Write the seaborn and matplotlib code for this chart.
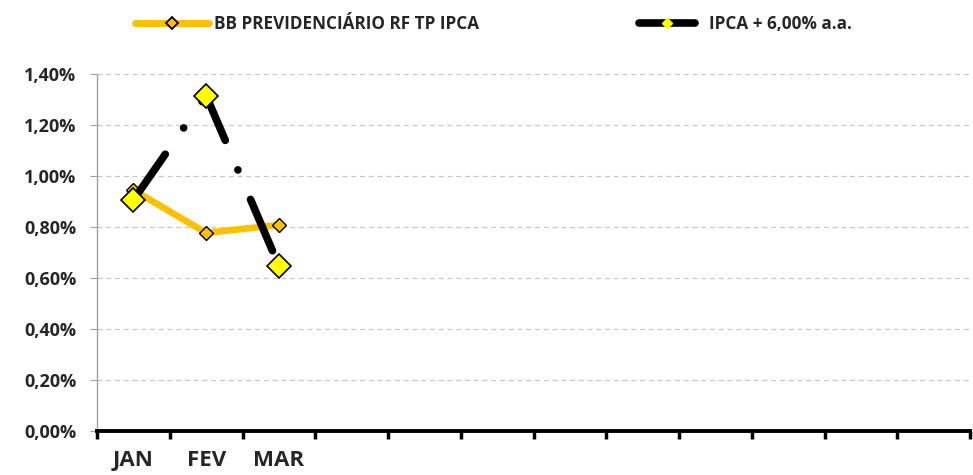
import matplotlib
matplotlib.use("Agg")
import matplotlib.pyplot as plt
import seaborn as sns
import pandas as pd
import numpy as np
from matplotlib.lines import Line2D
from matplotlib.ticker import FuncFormatter, MultipleLocator

# data (monthly %)
month_labels = ["JAN", "FEV", "MAR", "", "", "", "", "", "", "", "", ""]
months = ["JAN", "FEV", "MAR"]
fund_name = "BB PREVIDENCIÁRIO RF TP IPCA"
bench_name = "IPCA + 6,00% a.a."
fund_values = [0.945, 0.777, 0.808]
bench_values = [0.906, 1.315, 0.648]

ORANGE = "#FFC000"
YELLOW = "#FFFF00"

df = pd.DataFrame({
    "pos": np.arange(len(months)),
    "mes": months,
    "fund": fund_values,
    "bench": bench_values,
})

sns.set_style("white")
plt.rcParams["font.family"] = ["Open Sans", "DejaVu Sans"]
plt.rcParams["font.weight"] = "bold"

fig = plt.figure(figsize=(9.73, 4.75), dpi=100)
ax = fig.add_axes([0.0997, 0.0926, 0.8973, 0.7516])

sns.lineplot(data=df, x="pos", y="fund", ax=ax, color=ORANGE, linewidth=4.8,
             marker="D", markersize=7, markerfacecolor=ORANGE,
             markeredgecolor="black", markeredgewidth=1.0, zorder=3)
sns.lineplot(data=df, x="pos", y="bench", ax=ax, color="black", linewidth=5.5,
             marker="D", markersize=12.5, markerfacecolor=YELLOW,
             markeredgecolor="black", markeredgewidth=1.2, zorder=4)
bench_line = ax.lines[-1]
bench_line.set_dashes((7.3, 4.2, 0.01, 4.2))
bench_line.set_dash_capstyle("round")

ax.set_xlim(-0.5, len(month_labels) - 0.5)
ax.set_ylim(0, 1.4)
ax.yaxis.set_major_locator(MultipleLocator(0.2))
ax.yaxis.set_major_formatter(FuncFormatter(lambda v, p: f"{v:.2f}%".replace(".", ",")))
ax.grid(axis="y", color="#c8c8c8", linestyle=(0, (4, 3)), linewidth=0.9)
ax.set_axisbelow(True)

# category boundaries as major ticks, labels at centers as minor ticks
ax.set_xticks(np.arange(-0.5, len(month_labels), 1.0))
ax.set_xticklabels([])
ax.set_xticks(np.arange(len(month_labels)), minor=True)
ax.set_xticklabels(month_labels, minor=True, fontsize=16, fontweight="bold")
ax.tick_params(axis="x", which="major", direction="out", length=6, width=2.5, color="black", bottom=True)
ax.tick_params(axis="x", which="minor", length=0, pad=13.5)
ax.tick_params(axis="y", direction="out", length=5, width=0.8, color="#a0a0a0", left=True,
               labelsize=13, pad=10)
for lab in ax.get_yticklabels():
    lab.set_fontweight("bold")

ax.set_xlabel("")
ax.set_ylabel("")
for side in ["top", "right"]:
    ax.spines[side].set_visible(False)
ax.spines["left"].set_color("#a0a0a0")
ax.spines["left"].set_linewidth(1.0)
ax.spines["bottom"].set_color("black")
ax.spines["bottom"].set_linewidth(2.8)

h1 = Line2D([], [], color=ORANGE, linewidth=5, marker="D", markersize=6,
            markerfacecolor=ORANGE, markeredgecolor="black", markeredgewidth=1.3,
            solid_capstyle="round")
h2 = Line2D([], [], color="black", linewidth=5.5, marker="D", markersize=5,
            markerfacecolor=YELLOW, markeredgecolor=YELLOW, solid_capstyle="round")
fig.legend([h1], [fund_name], loc="center left", bbox_to_anchor=(0.123, 0.95),
           frameon=False, handlelength=4.3, handletextpad=0.3,
           prop={"weight": "bold", "size": 12.3})
fig.legend([h2], [bench_name], loc="center left", bbox_to_anchor=(0.641, 0.95),
           frameon=False, handlelength=3.3, handletextpad=0.8,
           prop={"weight": "bold", "size": 12.3})

fig.savefig("out.png", dpi=100)
plt.close(fig)
